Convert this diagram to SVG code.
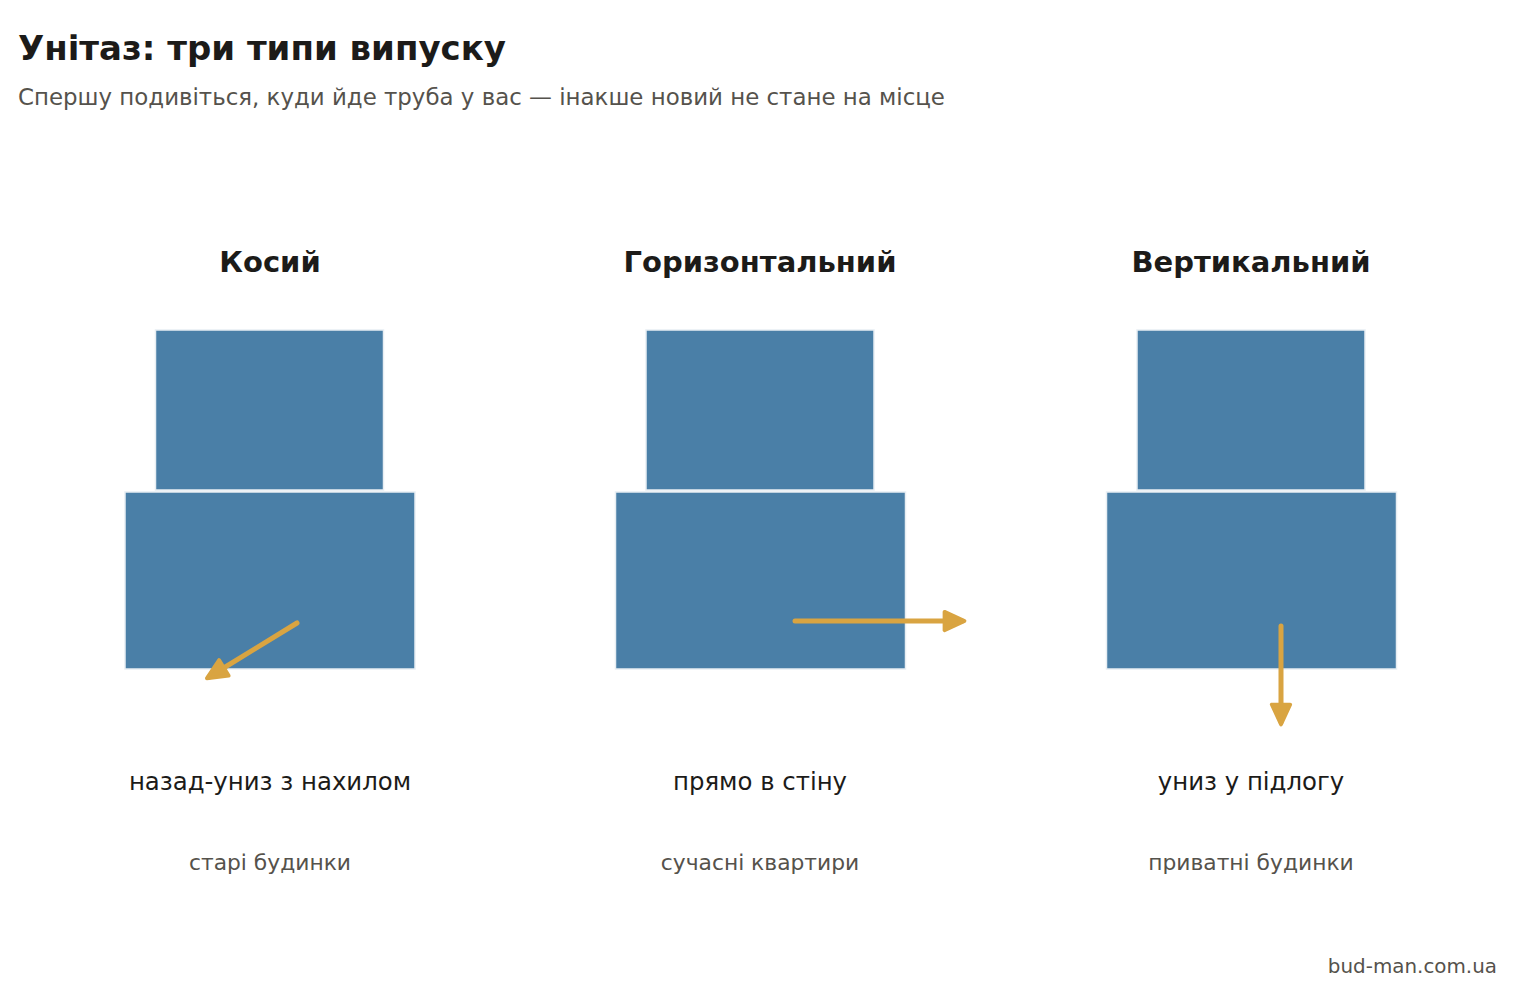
<svg xmlns="http://www.w3.org/2000/svg" width="1520" height="993" viewBox="0 0 1520 993">
<style>
text{font-family:"DejaVu Sans","Noto Sans",sans-serif}
.t{font-size:34px;font-weight:bold;fill:#1c1b19}
.s{font-size:22.9px;fill:#55524c}
.h{font-size:29px;font-weight:bold;fill:#1c1b19;text-anchor:middle}
.l{font-size:24.4px;fill:#1c1b19;text-anchor:middle}
.u{font-size:21.8px;fill:#55524c;text-anchor:middle}
.f{font-size:19.9px;fill:#55524c;text-anchor:end}
.b{fill:#4a7fa7;stroke:#e8eef3;stroke-width:1.5}
.a{fill:none;stroke:#d9a441;stroke-width:5;stroke-linecap:round}
</style>
<defs>
<marker id="ah" viewBox="0 0 10 10" refX="8" refY="5" markerWidth="5" markerHeight="5" orient="auto" markerUnits="strokeWidth">
<path d="M1,1.3 L9,5 L1,8.7 Z" fill="#d9a441" stroke="#d9a441" stroke-width="1.5" stroke-linejoin="round"/>
</marker>
</defs>
<rect width="1520" height="993" fill="#fff"/>
<text class="t" x="18" y="60">Унітаз: три типи випуску</text>
<text class="s" x="18" y="105">Спершу подивіться, куди йде труба у вас — інакше новий не стане на місце</text>
<g id="kosyi">
<text class="h" x="270" y="272">Косий</text>
<rect class="b" x="155.5" y="330" width="228" height="160"/>
<rect class="b" x="125" y="492" width="290" height="177"/>
<text class="l" x="270" y="790">назад-униз з нахилом</text>
<text class="u" x="270" y="870">старі будинки</text>
</g>
<g id="horyzontalnyi">
<text class="h" x="760" y="272">Горизонтальний</text>
<rect class="b" x="646" y="330" width="228" height="160"/>
<rect class="b" x="615.5" y="492" width="290" height="177"/>
<text class="l" x="760" y="790">прямо в стіну</text>
<text class="u" x="760" y="870">сучасні квартири</text>
</g>
<g id="vertykalnyi">
<text class="h" x="1251" y="272">Вертикальний</text>
<rect class="b" x="1137" y="330" width="228" height="160"/>
<rect class="b" x="1106.5" y="492" width="290" height="177"/>
<text class="l" x="1251" y="790">униз у підлогу</text>
<text class="u" x="1251" y="870">приватні будинки</text>
</g>
<g id="connectors">
<line class="a" x1="297" y1="623" x2="209" y2="677" marker-end="url(#ah)"/>
<line class="a" x1="795" y1="621" x2="962" y2="621" marker-end="url(#ah)"/>
<line class="a" x1="1281" y1="626" x2="1281" y2="722" marker-end="url(#ah)"/>
</g>
<text class="f" x="1497" y="973">bud-man.com.ua</text>
</svg>
